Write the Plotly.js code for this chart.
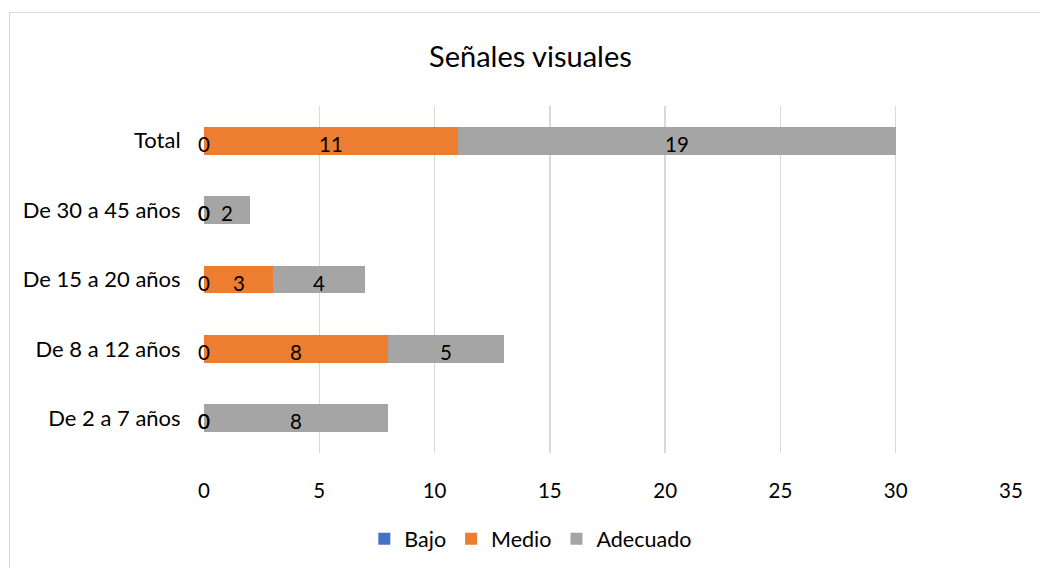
<!DOCTYPE html>
<html>
<head>
<meta charset="utf-8">
<script src="https://cdn.plot.ly/plotly-3.0.1.min.js"></script>
<style>
  html, body { margin: 0; padding: 0; background: #fff; }
  #wrap { position: relative; width: 1040px; height: 568px; }
  #chart { width: 1040px; height: 568px; }
  #frame { position: absolute; left: 9px; top: 12px; width: 1100px; height: 600px;
           border-left: 1px solid #d9d9d9; border-top: 1px solid #d9d9d9; pointer-events: none; }
</style>
</head>
<body>
<div id="wrap">
  <div id="chart"></div>
  <div id="frame"></div>
</div>
<script>
const categories = ["De 2 a 7 años", "De 8 a 12 años", "De 15 a 20 años", "De 30 a 45 años", "Total"];
const bajo     = [0, 0, 0, 0, 0];
const medio    = [0, 8, 3, 0, 11];
const adecuado = [8, 5, 4, 2, 19];
const xTicks   = [0, 5, 10, 15, 20, 25, 30, 35];

const FONT = "Lato, 'Open Sans', sans-serif";
const colors = { Bajo: "#4472C4", Medio: "#ED7D31", Adecuado: "#A5A5A5" };

const series = [
  { name: "Bajo", values: bajo },
  { name: "Medio", values: medio },
  { name: "Adecuado", values: adecuado }
];

const traces = [];
series.forEach(s => {
  traces.push({
    type: "bar", orientation: "h", name: s.name,
    y: categories, x: s.values,
    marker: { color: colors[s.name] },
    hoverinfo: "none"
  });
});

// data labels, centred in each segment
const annotations = [];
const base = categories.map(() => 0);
series.forEach(s => {
  s.values.forEach((v, i) => {
    annotations.push({
      x: base[i] + v / 2, y: categories[i], xref: "x", yref: "y",
      text: String(v), showarrow: false, xanchor: "center", yanchor: "middle",
      yshift: -3,
      font: { family: FONT, size: 20.5, color: "#000" }
    });
    base[i] += v;
  });
});

const layout = {
  width: 1040, height: 568,
  margin: { l: 204, r: 29, t: 106, b: 115, autoexpand: false },
  paper_bgcolor: "rgba(0,0,0,0)", plot_bgcolor: "#fff",
  barmode: "stack", bargap: 0.6,
  font: { family: FONT, size: 21, color: "#000" },
  title: { text: "Señales visuales", x: 0.51, xref: "container", xanchor: "center",
           y: 0.9, yref: "container", yanchor: "middle", automargin: false,
           font: { family: FONT, size: 29, color: "#000" } },
  xaxis: {
    range: [0, 35], tickvals: xTicks, ticktext: xTicks.map(String),
    showgrid: true, gridcolor: "#d9d9d9", gridwidth: 1.5,
    zeroline: false, showline: false,
    ticks: "outside", ticklen: 19, tickcolor: "rgba(0,0,0,0)",
    tickfont: { family: FONT, size: 20.5, color: "#000" },
    fixedrange: true
  },
  yaxis: {
    type: "category", categoryorder: "array", categoryarray: categories,
    showgrid: false, zeroline: false, showline: false,
    ticks: "outside", ticklen: 18, tickcolor: "rgba(0,0,0,0)",
    tickfont: { family: FONT, size: 22, color: "#000" },
    fixedrange: true
  },
  annotations: annotations,
  showlegend: true,
  legend: {
    orientation: "h", x: 0.405, xanchor: "center", y: -0.247, yanchor: "middle",
    font: { family: FONT, size: 21.5, color: "#000" },
    itemwidth: 30,
    traceorder: "normal", itemclick: false, itemdoubleclick: false
  }
};

Plotly.newPlot("chart", traces, layout, { staticPlot: true, displayModeBar: false });
</script>
</body>
</html>
